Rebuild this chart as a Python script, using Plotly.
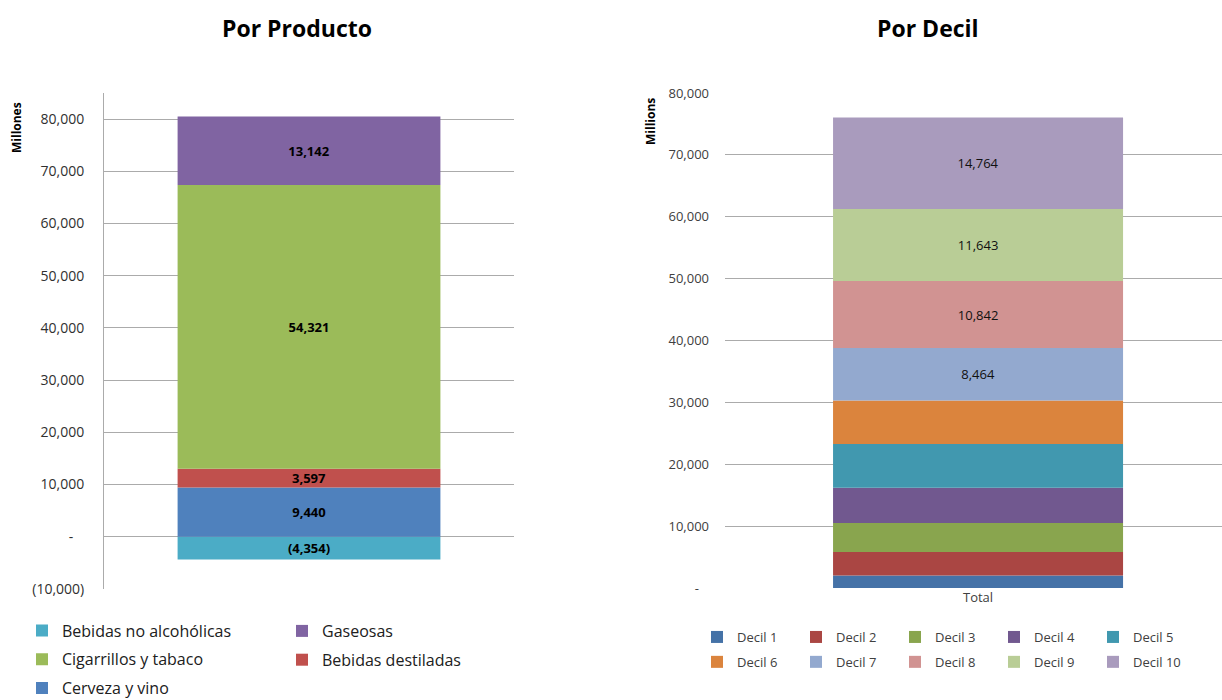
import plotly.graph_objects as go

# ---- Data: Por Producto (millions) ----
prod_names = ["Bebidas no alcohólicas", "Cerveza y vino", "Bebidas destiladas",
              "Cigarrillos y tabaco", "Gaseosas"]
prod_values = [-4354, 9440, 3597, 54321, 13142]
prod_colors = ["#4BACC6", "#4F81BD", "#C0504D", "#9BBB59", "#8064A2"]
# legend placement: column (1 or 2) and row
prod_leg_col = [1, 1, 2, 1, 2]
prod_leg_row = [1, 3, 2, 2, 1]

# ---- Data: Por Decil (millions) ----
decil_names = ["Decil 1", "Decil 2", "Decil 3", "Decil 4", "Decil 5",
               "Decil 6", "Decil 7", "Decil 8", "Decil 9", "Decil 10"]
decil_values = [2040, 3780, 4680, 5700, 7060, 7050, 8464, 10842, 11643, 14764]
decil_labeled = [False, False, False, False, False, False, True, True, True, True]
decil_colors = ["#4572A7", "#AA4643", "#89A54E", "#71588F", "#4198AF",
                "#DB843D", "#93A9CF", "#D19392", "#B9CD96", "#A99BBD"]

category = ["Total"]

# ---- Tick labels ----
left_tickvals = [-10000, 0, 10000, 20000, 30000, 40000, 50000, 60000, 70000, 80000]
left_ticktext = ["(10,000)", "-\u00a0\u00a0\u00a0", "10,000", "20,000", "30,000", "40,000",
                 "50,000", "60,000", "70,000", "80,000"]
right_tickvals = [0, 10000, 20000, 30000, 40000, 50000, 60000, 70000, 80000]
right_ticktext = ["-\u00a0\u00a0\u00a0", "10,000", "20,000", "30,000", "40,000",
                  "50,000", "60,000", "70,000", "80,000"]


def fmt(v):
    return f"({abs(v):,})" if v < 0 else f"{v:,}"


FONT = "Open Sans"
W, H = 1222, 700


def px_x(p):
    return p / W


def px_y(p):
    return 1 - p / H


fig = go.Figure()

for name, val, col, lc, lr in zip(prod_names, prod_values, prod_colors, prod_leg_col, prod_leg_row):
    fig.add_trace(go.Bar(
        x=category, y=[val], name=name, marker=dict(color=col, line=dict(width=0)),
        width=0.641, text=[fmt(val)], textposition="inside", insidetextanchor="middle",
        textangle=0, textfont=dict(family=FONT, size=13, color="black", weight="bold"),
        xaxis="x", yaxis="y", legend="legend" if lc == 1 else "legend2",
        legendgroup=name, legendrank=lr,
    ))

decil_legends = ["legend3", "legend4", "legend5", "legend6", "legend7"]
for i, (name, val, lab, col) in enumerate(zip(decil_names, decil_values, decil_labeled, decil_colors)):
    fig.add_trace(go.Bar(
        x=category, y=[val], name=name, marker=dict(color=col, line=dict(width=0)),
        width=0.573, text=[fmt(val) if lab else ""], textposition="inside",
        insidetextanchor="middle", textangle=0,
        textfont=dict(family=FONT, size=13, color="#111111"),
        xaxis="x2", yaxis="y2", legend=decil_legends[i % 5],
        legendgroup=name, legendrank=i // 5 + 1,
    ))

grid_col = "#ABABAB"

left_leg_font = dict(family=FONT, size=16, color="#202020")
right_leg_font = dict(family=FONT, size=13, color="#404040")


def left_legend(xp, bottom):
    return dict(orientation="v", x=px_x(xp), y=px_y(bottom), xanchor="left", yanchor="bottom",
                traceorder="grouped", tracegroupgap=5, font=left_leg_font,
                bgcolor="rgba(0,0,0,0)")


def right_legend(xp):
    return dict(orientation="v", x=px_x(xp), y=px_y(677), xanchor="left", yanchor="bottom",
                traceorder="grouped", tracegroupgap=5, font=right_leg_font,
                bgcolor="rgba(0,0,0,0)")


fig.update_layout(
    width=W, height=H,
    margin=dict(l=0, r=0, t=0, b=0, autoexpand=False),
    paper_bgcolor="white", plot_bgcolor="white",
    barmode="relative",
    font=dict(family=FONT, color="#404040"),
    uniformtext=dict(minsize=13, mode="show"),
    xaxis=dict(domain=[px_x(104), px_x(514)], range=[-0.5, 0.5], showticklabels=False,
               showgrid=False, zeroline=False, showline=False, fixedrange=True,
               automargin=False),
    yaxis=dict(domain=[px_y(589), px_y(93)], range=[-10000, 85000],
               tickvals=left_tickvals, ticktext=left_ticktext,
               showgrid=True, gridcolor=grid_col, gridwidth=1, zeroline=False,
               showline=True, linecolor=grid_col, linewidth=1,
               ticks="", ticklabelstandoff=16, automargin=False,
               tickfont=dict(family=FONT, size=14, color="#303030")),
    xaxis2=dict(domain=[px_x(725), 1.0], range=[-0.5, 0.482], anchor="y2",
                showgrid=False, zeroline=False, showline=False, ticks="", automargin=False,
                tickfont=dict(family=FONT, size=13, color="#404040")),
    yaxis2=dict(domain=[px_y(588), px_y(93)], range=[0, 80000], anchor="x2",
                tickvals=right_tickvals, ticktext=right_ticktext,
                showgrid=True, gridcolor=grid_col, gridwidth=1, zeroline=False,
                showline=False, ticks="", ticklabelstandoff=15, automargin=False,
                tickfont=dict(family=FONT, size=13, color="#404040")),
    legend=left_legend(22, 705.5),
    legend2=left_legend(282, 677),
    legend3=right_legend(697),
    legend4=right_legend(796),
    legend5=right_legend(895),
    legend6=right_legend(994),
    legend7=right_legend(1093),
    annotations=[
        dict(text="<b>Por Producto</b>", x=px_x(297), y=px_y(28), xref="paper", yref="paper",
             xanchor="center", yanchor="middle", showarrow=False,
             font=dict(family=FONT, size=23, color="black")),
        dict(text="<b>Por Decil</b>", x=px_x(928), y=px_y(28), xref="paper", yref="paper",
             xanchor="center", yanchor="middle", showarrow=False,
             font=dict(family=FONT, size=23, color="black")),
        dict(text="<b>Millones</b>", x=px_x(17), y=px_y(128), xref="paper", yref="paper",
             xanchor="center", yanchor="middle", showarrow=False, textangle=-90,
             font=dict(family=FONT, size=12, color="black")),
        dict(text="<b>Millions</b>", x=px_x(651), y=px_y(122), xref="paper", yref="paper",
             xanchor="center", yanchor="middle", showarrow=False, textangle=-90,
             font=dict(family=FONT, size=12, color="black")),
    ],
)

fig.write_html("out.html", config={"displayModeBar": False},
               post_script="document.body.style.margin='0px';")
